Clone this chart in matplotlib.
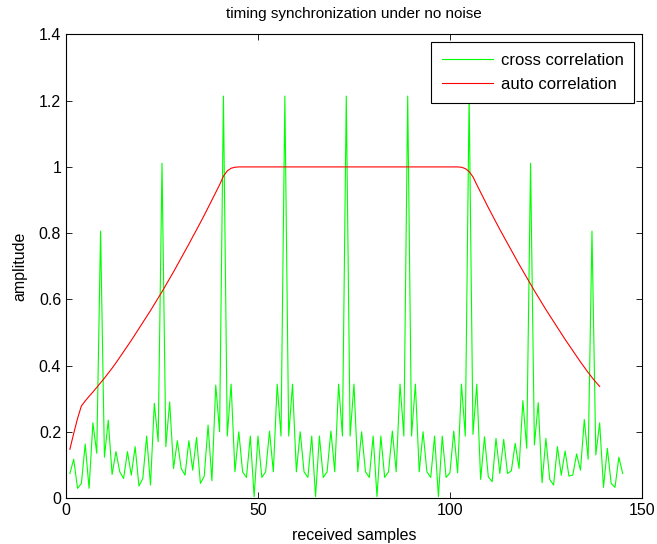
#!/usr/bin/env python3

import numpy as np
import matplotlib
matplotlib.use('Agg')
from matplotlib import pyplot as plt

# cross correlation, samples 1..145
cross_x = np.arange(1, 146)
cross_y = [
	0.074, 0.117, 0.029, 0.044, 0.163, 0.029, 0.227, 0.135, 0.806, 0.123,
	0.235, 0.071, 0.140, 0.079, 0.059, 0.140, 0.069, 0.155, 0.036, 0.059,
	0.187, 0.039, 0.286, 0.170, 1.011, 0.155, 0.290, 0.089, 0.173, 0.089,
	0.069, 0.173, 0.084, 0.183, 0.044, 0.066, 0.220, 0.052, 0.341, 0.200,
	1.214, 0.187, 0.344, 0.079, 0.200, 0.079, 0.062, 0.187, 0.004, 0.187,
	0.062, 0.079, 0.202, 0.079, 0.344, 0.187, 1.214, 0.187, 0.344, 0.079,
	0.200, 0.079, 0.062, 0.187, 0.004, 0.187, 0.062, 0.079, 0.202, 0.079,
	0.344, 0.187, 1.214, 0.187, 0.344, 0.079, 0.200, 0.079, 0.062, 0.187,
	0.004, 0.187, 0.062, 0.079, 0.202, 0.079, 0.344, 0.187, 1.214, 0.187,
	0.344, 0.079, 0.200, 0.079, 0.062, 0.187, 0.004, 0.187, 0.062, 0.076,
	0.202, 0.076, 0.344, 0.187, 1.214, 0.192, 0.344, 0.056, 0.185, 0.064,
	0.049, 0.180, 0.074, 0.177, 0.074, 0.082, 0.165, 0.089, 0.294, 0.150,
	1.011, 0.160, 0.288, 0.046, 0.180, 0.056, 0.039, 0.155, 0.069, 0.142,
	0.066, 0.069, 0.133, 0.084, 0.237, 0.117, 0.806, 0.130, 0.227, 0.032,
	0.150, 0.044, 0.032, 0.123, 0.074,
]

# auto correlation, samples 1..139
auto_x = np.arange(1, 140)
auto_y = [
	0.147, 0.195, 0.240, 0.278, 0.293, 0.307, 0.320, 0.334, 0.348, 0.362,
	0.377, 0.392, 0.408, 0.425, 0.442, 0.459, 0.476, 0.494, 0.512, 0.530,
	0.548, 0.566, 0.585, 0.604, 0.623, 0.643, 0.663, 0.683, 0.704, 0.725,
	0.746, 0.767, 0.789, 0.810, 0.832, 0.854, 0.877, 0.900, 0.923, 0.946,
	0.972, 0.988, 0.996, 0.999,
	1.0, 1.0, 1.0, 1.0, 1.0, 1.0, 1.0, 1.0, 1.0, 1.0,
	1.0, 1.0, 1.0, 1.0, 1.0, 1.0, 1.0, 1.0, 1.0, 1.0,
	1.0, 1.0, 1.0, 1.0, 1.0, 1.0, 1.0, 1.0, 1.0, 1.0,
	1.0, 1.0, 1.0, 1.0, 1.0, 1.0, 1.0, 1.0, 1.0, 1.0,
	1.0, 1.0, 1.0, 1.0, 1.0, 1.0, 1.0, 1.0, 1.0, 1.0,
	1.0, 1.0, 1.0, 1.0, 1.0, 1.0, 1.0, 1.0,
	0.999, 0.995, 0.986, 0.970, 0.946, 0.923, 0.900, 0.877, 0.855, 0.833,
	0.811, 0.790, 0.769, 0.748, 0.727, 0.706, 0.686, 0.666, 0.646, 0.626,
	0.607, 0.588, 0.569, 0.551, 0.533, 0.515, 0.497, 0.479, 0.462, 0.445,
	0.428, 0.411, 0.395, 0.379, 0.364, 0.350, 0.337,
]

x_ticks = [0, 50, 100, 150]
y_ticks = [0, 0.2, 0.4, 0.6, 0.8, 1, 1.2, 1.4]
y_tick_labels = ['0', '0.2', '0.4', '0.6', '0.8', '1', '1.2', '1.4']


def main():
	plt.rcParams['font.family'] = ['Liberation Sans', 'DejaVu Sans']
	plt.rcParams['font.size'] = 11.5

	fig = plt.figure(figsize=(6.57, 5.44), dpi=100)
	ax = fig.add_axes([0.1005, 0.0846, 0.8765, 0.852])

	ax.plot(cross_x, cross_y, color='#00ff00', lw=0.8, label='cross correlation')
	ax.plot(auto_x, auto_y, color='#ff0000', lw=0.8, label='auto correlation')

	ax.set_xlim(0, 150)
	ax.set_ylim(0, 1.4)
	ax.set_xticks(x_ticks)
	ax.set_yticks(y_ticks)
	ax.set_yticklabels(y_tick_labels)
	ax.tick_params(direction='in', top=True, right=True, length=4, width=0.6,
		labelsize=11.5)
	for s in ax.spines.values():
		s.set_linewidth(0.8)

	ax.set_title('timing synchronization under no noise', fontsize=11, pad=12)
	ax.set_xlabel('received samples', labelpad=7)
	ax.set_ylabel('amplitude', labelpad=8)

	leg = ax.legend(loc='upper right', fancybox=False, edgecolor='black',
		framealpha=1, handlelength=3.1, handletextpad=0.45, borderaxespad=0.45,
		borderpad=0.65, labelspacing=0.55, fontsize=12)
	leg.get_frame().set_linewidth(0.8)

	fig.savefig('out.png', dpi=100)


if __name__ == "__main__":
	main()
